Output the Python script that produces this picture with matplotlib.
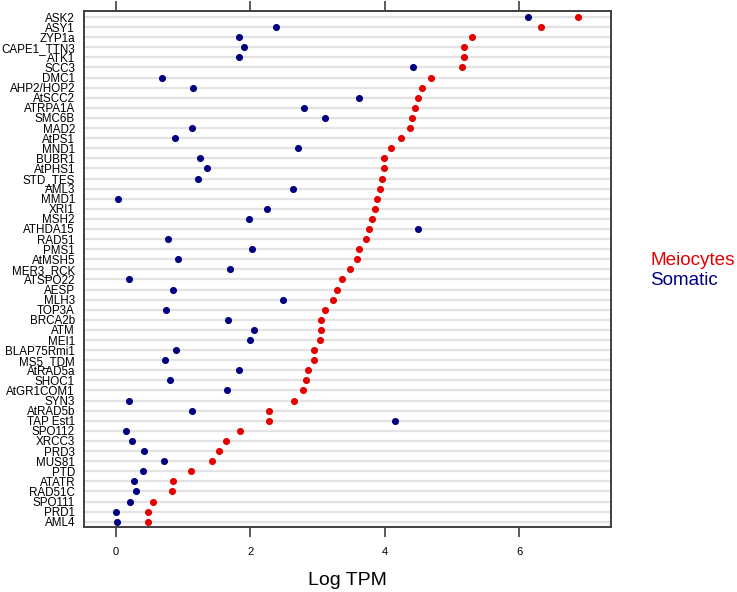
import matplotlib
matplotlib.use("Agg")
import matplotlib.pyplot as plt

genes = ["ASK2", "ASY1", "ZYP1a", "CAPE1_TTN3", "ATK1", "SCC3", "DMC1", "AHP2/HOP2",
         "AtSCC2", "ATRPA1A", "SMC6B", "MAD2", "AtPS1", "MND1", "BUBR1", "AtPHS1",
         "STD_TES", "AML3", "MMD1", "XRI1", "MSH2", "ATHDA15", "RAD51", "PMS1",
         "AtMSH5", "MER3_RCK", "ATSPO22", "AESP", "MLH3", "TOP3A", "BRCA2b", "ATM",
         "MEI1", "BLAP75Rmi1", "MS5_TDM", "AtRAD5a", "SHOC1", "AtGR1COM1", "SYN3",
         "AtRAD5b", "TAP Est1", "SPO112", "XRCC3", "PRD3", "MUS81", "PTD", "ATATR",
         "RAD51C", "SPO111", "PRD1", "AML4"]

meiocytes = [6.88, 6.32, 5.29, 5.18, 5.18, 5.15, 4.69, 4.55,
             4.50, 4.445, 4.405, 4.37, 4.24, 4.09, 3.99, 3.99,
             3.96, 3.93, 3.88, 3.85, 3.815, 3.765, 3.725, 3.61,
             3.58, 3.48, 3.36, 3.295, 3.225, 3.11, 3.05, 3.05,
             3.04, 2.94, 2.94, 2.85, 2.83, 2.78, 2.65,
             2.277, 2.277, 1.84, 1.63, 1.53, 1.433, 1.12, 0.853,
             0.828, 0.546, 0.48, 0.476]

somatic = [6.135, 2.38, 1.835, 1.91, 1.825, 4.415, 0.685, 1.146,
           3.61, 2.79, 3.115, 1.136, 0.883, 2.71, 1.25, 1.35,
           1.215, 2.64, 0.035, 2.24, 1.98, 4.50, 0.77, 2.03,
           0.92, 1.69, 0.20, 0.853, 2.48, 0.744, 1.67, 2.05,
           2.0, 0.90, 0.734, 1.825, 0.80, 1.656, 0.193,
           1.13, 4.15, 0.153, 0.233, 0.417, 0.71, 0.407, 0.273,
           0.303, 0.203, 0.0, 0.01]

xticks = [0, 2, 4, 6]

RED = "#e60000"
BLUE = "#000080"

plt.rcParams["font.family"] = ["Liberation Sans", "DejaVu Sans"]

fig = plt.figure(figsize=(7.37, 5.92), dpi=100)
ax = fig.add_axes([84 / 737, 1 - 527.3 / 592, (610.7 - 84) / 737, (527.3 - 11) / 592])

n = len(genes)
ypos = list(range(n - 1, -1, -1))

for y in ypos:
    ax.axhline(y, color="#e3e3e3", lw=1.6, zorder=0)

ax.scatter(somatic, ypos, s=26, color=BLUE, zorder=3, linewidths=0)
ax.scatter(meiocytes, ypos, s=26, color=RED, zorder=3, linewidths=0)

ax.set_xlim(-0.476, 7.36)
ax.set_ylim(-0.555, n - 1 + 0.595)
ax.set_yticks(ypos)
ax.set_yticklabels(genes, fontsize=8.4)
ax.tick_params(axis="y", length=0, pad=6.5)
ax.set_xticks(xticks)
ax.set_xticklabels([str(t) for t in xticks], fontsize=8)
ax.tick_params(axis="x", which="both", direction="out", length=7, width=1.2,
               color="#404040", top=True, labeltop=False, pad=7)

for sp in ax.spines.values():
    sp.set_color("#404040")
    sp.set_linewidth(1.4)

ax.set_xlabel("Log TPM", fontsize=14, labelpad=11)

fig.text(650 / 737, 1 - 260 / 592, "Meiocytes", color=RED, fontsize=13.6, va="center", ha="left")
fig.text(650 / 737, 1 - 280 / 592, "Somatic", color=BLUE, fontsize=13.6, va="center", ha="left")

fig.savefig("out.png", dpi=100)
